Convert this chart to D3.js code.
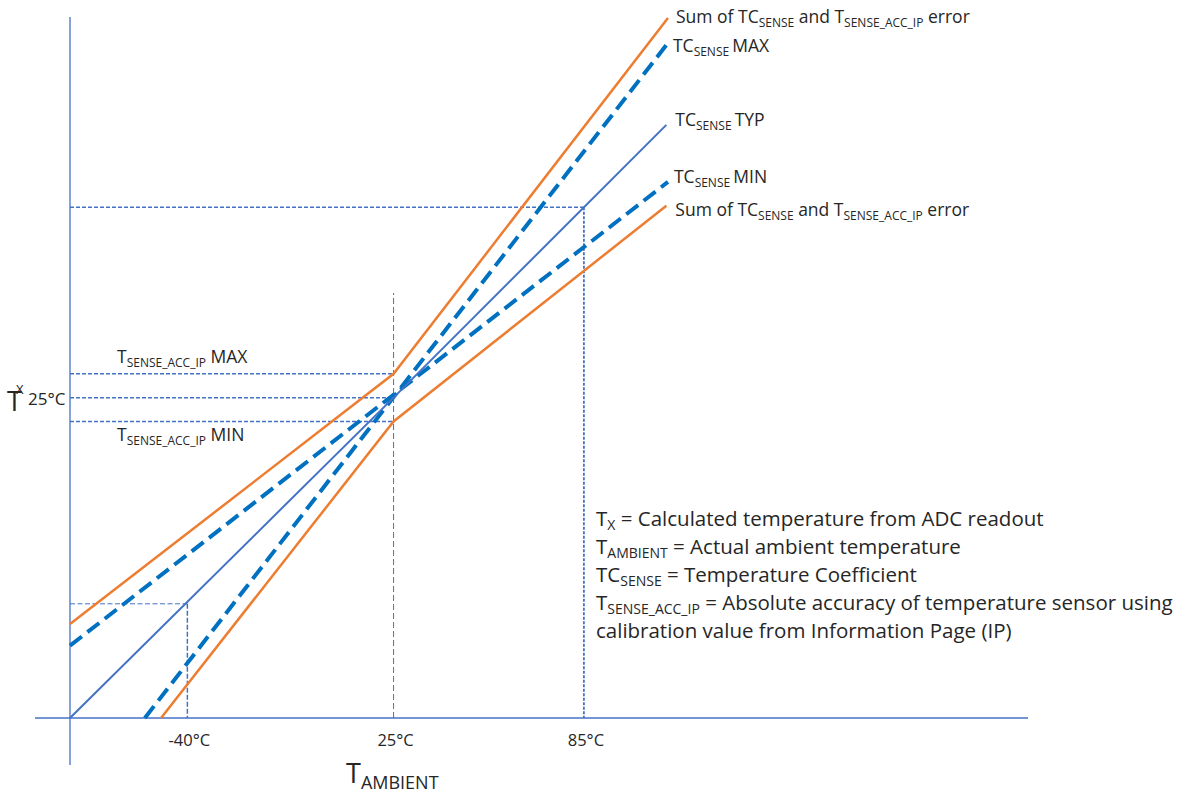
<!DOCTYPE html>
<html>
<head>
<meta charset="utf-8">
<script src="https://cdn.jsdelivr.net/npm/d3@7"></script>
<style>
  body { margin: 0; background: #fff; }
  svg text { font-family: "Open Sans", Lato, sans-serif; fill: #262626; }
</style>
</head>
<body>
<script>
// Canvas size
var w = 1197;
var h = 796;

// Temperatures on the ambient axis (°C)
var tickValues = [-40, 25, 85];
var tickLabels = ["-40°C", "25°C", "85°C"];

// Line end points, as [T_AMBIENT, T_X] in °C
var tcTyp = [[-77, -76], [25, 25], [111, 111]];
var tcMax = [[-53.4, -76], [111.5, 136.8]];
var tcMin = [[-77, -53.2], [111.5, 93]];
var errUpper = [[-77, -46.4], [25, 32.5], [111.5, 144.7]];
var errLower = [[-48.3, -76], [25, 17.5], [111, 85.5]];

// T_SENSE_ACC_IP band at 25°C
var accMax = 32.5;
var accMin = 17.5;

// Axis extents (°C)
var xDomain = [-77, 225];
var yDomain = [-76, 145];

// Scales: same pixels per degree on both axes
var xScale = d3.scaleLinear().domain(xDomain).range([70, 1028]);
var yScale = d3.scaleLinear().domain(yDomain).range([718, 17]);

var svg = d3.select("body")
            .append("svg")
            .attr("width", w)
            .attr("height", h);

var line = d3.line()
             .x(function(d) { return xScale(d[0]); })
             .y(function(d) { return yScale(d[1]); });

var blue = "#4472c4";

// Axes (x axis runs a bit left of origin, y axis a bit below)
svg.append("line")
   .attr("x1", xScale(xDomain[0]) - 35).attr("x2", xScale(xDomain[1]))
   .attr("y1", yScale(yDomain[0])).attr("y2", yScale(yDomain[0]))
   .attr("stroke", blue).attr("stroke-width", 1.3);
svg.append("line")
   .attr("x1", xScale(xDomain[0])).attr("x2", xScale(xDomain[0]))
   .attr("y1", yScale(yDomain[1])).attr("y2", yScale(yDomain[0]) + 47)
   .attr("stroke", blue).attr("stroke-width", 1.3);

// Dashed guide lines
function guide(pts, width, dash) {
    svg.append("path")
       .attr("d", line(pts))
       .attr("fill", "none")
       .attr("stroke", blue)
       .attr("stroke-width", width)
       .attr("stroke-dasharray", dash);
}
var x0 = xDomain[0], y0 = yDomain[0];
guide([[x0, accMax], [25, accMax]], 1.5, "4,2");
guide([[x0, 25], [25, 25]], 1.5, "4,2");
guide([[x0, accMin], [25, accMin]], 1.5, "4,2");
guide([[25, y0], [25, 58]], 1, "6,3");
guide([[x0, -40], [-40, -40]], 1, "5,2.5");
guide([[-40, -40], [-40, y0]], 1.5, "5,2");
guide([[x0, 85], [85, 85]], 1.5, "4,2");
guide([[85, 85], [85, y0]], 1.8, "3,1.5");

// Error envelope (orange)
[errUpper, errLower].forEach(function(d) {
    svg.append("path")
       .attr("d", line(d))
       .attr("fill", "none")
       .attr("stroke", "#ed7d31")
       .attr("stroke-width", 2.5);
});

// TC min / max (thick dashed)
[tcMax, tcMin].forEach(function(d) {
    svg.append("path")
       .attr("d", line(d))
       .attr("fill", "none")
       .attr("stroke", "#0070c0")
       .attr("stroke-width", 4)
       .attr("stroke-dasharray", "15,7");
});

// TC typical (solid)
svg.append("path")
   .attr("d", line(tcTyp))
   .attr("fill", "none")
   .attr("stroke", blue)
   .attr("stroke-width", 2);

// Text with sub-scripted parts: parts = [text, isSub]
function rich(x, y, parts, size, subSize, subDy) {
    var t = svg.append("text").attr("x", x).attr("y", y).attr("font-size", size);
    var shifted = false;
    parts.forEach(function(p) {
        var s = t.append("tspan").text(p[0]);
        if (p[1] && !shifted) { s.attr("font-size", subSize).attr("dy", subDy); shifted = true; }
        else if (!p[1] && shifted) { s.attr("dy", -subDy); shifted = false; }
        else if (p[1]) { s.attr("font-size", subSize); }
    });
    return t;
}

var sumParts = [["Sum of TC"], ["SENSE", 1], [" and T"], ["SENSE_ACC_IP", 1], [" error"]];
var fs = 17.5, sfs = 12, sdy = 4;

// Labels at the right ends of the lines
var endUpper = errUpper[errUpper.length - 1];
var endLower = errLower[errLower.length - 1];
var endTyp = tcTyp[tcTyp.length - 1];
var endMax = tcMax[tcMax.length - 1];
var endMin = tcMin[tcMin.length - 1];
rich(xScale(endUpper[0]) + 8, yScale(endUpper[1]) + 5, sumParts, fs, sfs, sdy);
rich(xScale(endMax[0]) + 5, yScale(endMax[1]) + 9, [["TC"], ["SENSE ", 1], ["MAX"]], fs, sfs, sdy);
rich(xScale(endTyp[0]) + 9, yScale(endTyp[1]) + 1, [["TC"], ["SENSE ", 1], ["TYP"]], fs, sfs, sdy);
rich(xScale(endMin[0]) + 6, yScale(endMin[1]) + 1, [["TC"], ["SENSE ", 1], ["MIN"]], fs, sfs, sdy);
rich(xScale(endLower[0]) + 9, yScale(endLower[1]) + 10, sumParts, fs, sfs, sdy);

// Band labels
rich(117, yScale(accMax) - 11, [["T"], ["SENSE_ACC_IP", 1], [" MAX"]], fs, sfs, sdy);
rich(117, yScale(accMin) + 20, [["T"], ["SENSE_ACC_IP", 1], [" MIN"]], fs, sfs, sdy);

// Y axis title: T with a raised X, then the 25°C tick
var yTitle = svg.append("text").attr("x", 7).attr("y", yScale(25) + 13);
yTitle.append("tspan").attr("font-size", 27).text("T");
yTitle.append("tspan").attr("font-size", 13).attr("dx", -6).attr("dy", -17).text("X");
svg.append("text").attr("x", 28).attr("y", yScale(25) + 7).attr("font-size", 17).text("25°C");

// X tick labels
svg.selectAll(".tick")
   .data(tickValues)
   .enter()
   .append("text")
   .attr("x", function(d) { return xScale(d) + 2; })
   .attr("y", yScale(y0) + 28)
   .attr("text-anchor", "middle")
   .attr("font-size", 16.5)
   .text(function(d, i) { return tickLabels[i]; });

// X axis title
rich(346, 783, [["T"], ["AMBIENT", 1]], 27, 18, 6);

// Definitions
var defs = [
    [["T"], ["X", 1], [" = Calculated temperature from ADC readout"]],
    [["T"], ["AMBIENT", 1], [" = Actual ambient temperature"]],
    [["TC"], ["SENSE", 1], [" = Temperature Coefficient"]],
    [["T"], ["SENSE_ACC_IP", 1], [" = Absolute accuracy of temperature sensor using"]],
    [["calibration value from Information Page (IP)"]]
];
defs.forEach(function(p, i) {
    rich(596, 526 + i * 28, p, 20.5, 14, 4);
});
</script>
</body>
</html>
